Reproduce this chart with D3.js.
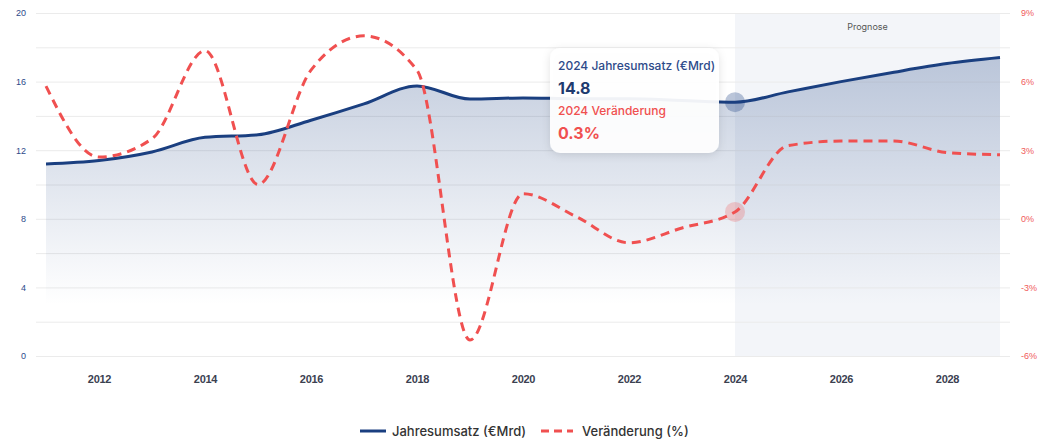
<!DOCTYPE html>
<html><head><meta charset="utf-8">
<script src="https://cdn.jsdelivr.net/npm/d3@7"></script>
<style>
html,body{margin:0;padding:0;background:#fff;}
svg{display:block;font-family:Inter,"Open Sans",sans-serif;}
</style></head>
<body>
<svg id="c" width="1038" height="439"></svg>
<script>
const years = [2011,2012,2013,2014,2015,2016,2017,2018,2019,2020,2021,2022,2023,2024,2025,2026,2027,2028,2029];
const umsatz = [11.2,11.4,11.9,12.75,12.9,13.75,14.7,15.75,14.98,15.05,15.0,15.0,14.9,14.8,15.4,16.0,16.55,17.05,17.4];
const veraenderung = [5.8,2.7,3.5,7.35,1.5,6.5,8.0,6.5,-5.3,1.1,0.1,-1.05,-0.4,0.3,3.2,3.4,3.4,2.9,2.8];
const xTicks = [2012,2014,2016,2018,2020,2022,2024,2026,2028];
const leftTicks = [0,4,8,12,16,20];
const rightTicks = [-6,-3,0,3,6,9];
const gridTicks = [0,2,4,6,8,10,12,14,16,18,20];
const forecastStart = 2024;
const hoverYear = 2024;

const svg = d3.select("#c");
const x = d3.scaleLinear().domain([2011,2029]).range([46,1000]);
const yL = d3.scaleLinear().domain([0,20]).range([356,13]);
const yR = d3.scaleLinear().domain([-6,9]).range([356,13]);

const defs = svg.append("defs");
const grad = defs.append("linearGradient").attr("id","ag").attr("gradientUnits","userSpaceOnUse")
  .attr("x1",0).attr("x2",0).attr("y1",yL(17.4)).attr("y2",yL(3));
grad.append("stop").attr("offset",0).attr("stop-color","#1a3f80").attr("stop-opacity",0.26);
grad.append("stop").attr("offset",1).attr("stop-color","#1a3f80").attr("stop-opacity",0);
const f = defs.append("filter").attr("id","sh").attr("x","-20%").attr("y","-20%").attr("width","140%").attr("height","150%");
f.append("feDropShadow").attr("dx",0).attr("dy",2).attr("stdDeviation",4).attr("flood-color","#000").attr("flood-opacity",0.12);

// forecast band
svg.append("rect").attr("x",x(forecastStart)).attr("y",yL(20)).attr("width",x(2029)-x(forecastStart)).attr("height",yL(0)-yL(20)).attr("fill","#f3f5f9");
svg.append("text").attr("x",(x(forecastStart)+x(2029))/2).attr("y",30).attr("text-anchor","middle")
  .attr("font-size",9).attr("fill","#555").text("Prognose");

// grid
svg.append("g").selectAll("line").data(gridTicks).join("line")
  .attr("x1",36).attr("x2",1010).attr("y1",d=>yL(d)+0.5).attr("y2",d=>yL(d)+0.5)
  .attr("stroke","#ebebeb").attr("stroke-width",1);

// axes
const axL = svg.append("g").attr("transform","translate(26,0)").call(d3.axisLeft(yL).tickValues(leftTicks).tickSize(0).tickPadding(0));
axL.select(".domain").remove();
axL.selectAll("text").attr("fill","#2d4a8a").attr("font-size",9).attr("font-weight",500).attr("dy","0.32em");
const axR = svg.append("g").attr("transform","translate(1021,0)").call(d3.axisRight(yR).tickValues(rightTicks).tickFormat(d=>d+"%").tickSize(0).tickPadding(0));
axR.select(".domain").remove();
axR.selectAll("text").attr("fill","#f05a5a").attr("font-size",9).attr("font-weight",500).attr("dy","0.32em");
const axB = svg.append("g").attr("transform","translate(0,375)").call(d3.axisBottom(x).tickValues(xTicks).tickFormat(d3.format("d")).tickSize(0).tickPadding(0));
axB.select(".domain").remove();
axB.selectAll("text").attr("fill","#3b4151").attr("font-size",11).attr("font-weight",600).attr("dy","0.71em").attr("letter-spacing","-0.3");

const data = years.map((y,i)=>({y, u:umsatz[i], v:veraenderung[i]}));
const curve = d3.curveMonotoneX;

svg.append("path").datum(data).attr("fill","url(#ag)")
  .attr("d", d3.area().x(d=>x(d.y)).y0(yL(0)).y1(d=>yL(d.u)).curve(curve));
svg.append("path").datum(data).attr("fill","none").attr("stroke","#1a3f80").attr("stroke-width",3)
  .attr("d", d3.line().x(d=>x(d.y)).y(d=>yL(d.u)).curve(curve));
svg.append("path").datum(data).attr("fill","none").attr("stroke","#f05050").attr("stroke-width",3)
  .attr("stroke-dasharray","9,6")
  .attr("d", d3.line().x(d=>x(d.y)).y(d=>yR(d.v)).curve(curve));

// hover markers
const hi = years.indexOf(hoverYear);
svg.append("circle").attr("cx",x(hoverYear)).attr("cy",yL(umsatz[hi])).attr("r",10).attr("fill","#1a3f80").attr("fill-opacity",0.3);
svg.append("circle").attr("cx",x(hoverYear)).attr("cy",yR(veraenderung[hi])).attr("r",10).attr("fill","#f05050").attr("fill-opacity",0.25);

// tooltip
const tt = svg.append("g").attr("transform","translate(550,48)");
tt.append("rect").attr("width",169).attr("height",105).attr("rx",10).attr("fill","#fff").attr("fill-opacity",0.93).attr("filter","url(#sh)");
tt.append("text").attr("x",8).attr("y",22).attr("font-size",12).attr("font-weight",500).attr("fill","#2d4a8a").text(hoverYear+" Jahresumsatz (€Mrd)");
tt.append("text").attr("x",8).attr("y",46).attr("font-size",16).attr("font-weight",700).attr("fill","#1e3a6e").text(umsatz[hi].toFixed(1));
tt.append("text").attr("x",8).attr("y",67).attr("font-size",12).attr("font-weight",500).attr("fill","#f05050").text(hoverYear+" Veränderung");
tt.append("text").attr("x",8).attr("y",91).attr("font-size",16).attr("font-weight",700).attr("fill","#f05050").text(veraenderung[hi].toFixed(1)+"%");

// legend
const lg = svg.append("g").attr("transform","translate(0,431)");
lg.append("line").attr("x1",360).attr("x2",386).attr("y1",0).attr("y2",0).attr("stroke","#1a3f80").attr("stroke-width",3);
lg.append("text").attr("x",392).attr("y",0).attr("dy","0.35em").attr("font-size",13).attr("font-weight",500).attr("fill","#333").text("Jahresumsatz (€Mrd)");
lg.append("line").attr("x1",541).attr("x2",573).attr("y1",0).attr("y2",0).attr("stroke","#f05050").attr("stroke-width",3).attr("stroke-dasharray","8,5");
lg.append("text").attr("x",582).attr("y",0).attr("dy","0.35em").attr("font-size",13).attr("font-weight",500).attr("fill","#333").text("Veränderung (%)");
</script>
</body></html>
